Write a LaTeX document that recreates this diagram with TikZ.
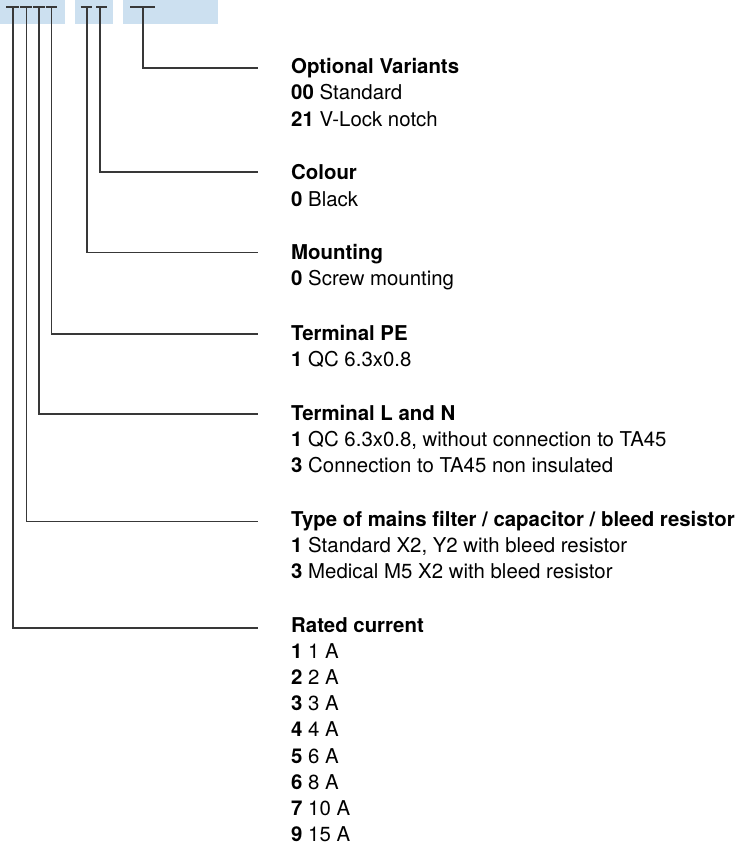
\documentclass[tikz,border=0pt]{standalone}
\usepackage{fontspec}
\setmainfont{TeX Gyre Heros}
\begin{document}
\begin{tikzpicture}[x=1pt,y=-1pt,
  lead/.style={draw=black!78,line width=1.2pt},
  tick/.style={draw=black!78,line width=1.4pt},
  ttl/.style={anchor=base west,inner sep=0pt,font=\fontsize{20.4}{24}\selectfont\bfseries},
  itm/.style={anchor=base west,inner sep=0pt,font=\fontsize{20.4}{24}\selectfont}]
\definecolor{bandblue}{HTML}{CCE0F0}
\useasboundingbox (0,0) rectangle (748,855);
% code band
\fill[bandblue] (0,0) rectangle (65,24);
\fill[bandblue] (75,0) rectangle (113,24);
\fill[bandblue] (123,0) rectangle (218,24);
% ticks
\foreach \n/\xa/\xb/\xc in {a/6/13/18.5, b/20/26.5/32, c/33/39/44.5, d/45.5/51.5/57, e/80.5/87/92, f/96/100/107, g/130/143/155}{
  \draw[tick] (\xa,7) -- (\xc,7);
  \coordinate (\n) at (\xb,7);
}
% end points of leaders
\coordinate (eg) at (258,68);
\coordinate (ef) at (258,172);
\coordinate (ee) at (258,252.5);
\coordinate (ed) at (258,334);
\coordinate (ec) at (258,414);
\coordinate (eb) at (258,521.5);
\coordinate (ea) at (258,628);
\draw[lead] (g) |- (eg);
\draw[lead] (f) |- (ef);
\draw[lead] (e) |- (ee);
\draw[lead] (d) |- (ed);
\draw[lead] (c) |- (ec);
\draw[lead] (b) |- (eb);
\draw[lead] (a) |- (ea);
% texts
\node[ttl] (tg) at (291,73) {Optional Variants};
\node[itm] (g1) at (291,99.5) {\textbf{00} Standard};
\node[itm] (g2) at (291,126) {\textbf{21} V-Lock notch};
\node[ttl] (tf) at (291,179.5) {Colour};
\node[itm] (f1) at (291,206) {\textbf{0} Black};
\node[ttl] (te) at (291,259) {Mounting};
\node[itm] (e1) at (291,285.5) {\textbf{0} Screw mounting};
\node[ttl] (td) at (291,340) {Terminal PE};
\node[itm] (d1) at (291,366.5) {\textbf{1} QC 6.3x0.8};
\node[ttl] (tc) at (291,420) {Terminal L and N};
\node[itm] (c1) at (291,446.5) {\textbf{1} QC 6.3x0.8, without connection to TA45};
\node[itm] (c2) at (291,472.5) {\textbf{3} Connection to TA45 non insulated};
\node[ttl] (tb) at (291,526.5) {Type of mains filter / capacitor / bleed resistor};
\node[itm] (b1) at (291,552.5) {\textbf{1} Standard X2, Y2 with bleed resistor};
\node[itm] (b2) at (291,578.5) {\textbf{3} Medical M5 X2 with bleed resistor};
\node[ttl] (ta) at (291,632) {Rated current};
\foreach \k/\v/\yy in {1/1/658.3, 2/2/684.5, 3/3/710.7, 4/4/736.9, 5/6/763.1, 6/8/789.3, 7/10/815.5, 9/15/841.7}{
  \node[itm] (a\k) at (291,\yy) {\textbf{\k} \v{} A};
}
\end{tikzpicture}
\end{document}
